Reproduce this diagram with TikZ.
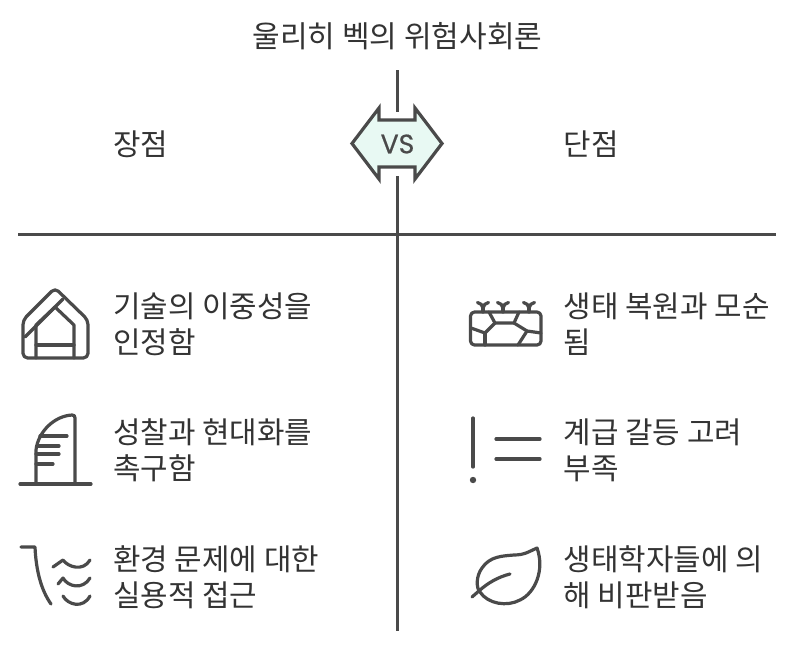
\documentclass[tikz,border=0pt]{standalone}
\usepackage{fontspec}
\setmainfont{Noto Sans CJK KR}
\newfontfamily\vsfont[FakeBold=0.6]{Poppins}
\definecolor{ink}{HTML}{4A4A4A}
\definecolor{txt}{HTML}{333333}
\definecolor{mint}{HTML}{E8F9F3}
\tikzset{
  px/.style={x=0.75pt,y=-0.75pt},
  rule/.style={draw=ink,line width=2.25pt},
  ico/.style={draw=ink,line width=2.4pt,line cap=round,line join=round},
  lbl/.style={anchor=base west,inner sep=0pt,text=txt,font=\fontsize{22.4}{22.4}\selectfont},
}
\begin{document}
\begin{tikzpicture}[px]
\useasboundingbox (0,0) rectangle (796,650);
\fill[white] (0,0) rectangle (796,650);
% frame lines
\coordinate (vtop) at (397,70);
\coordinate (vupper) at (397,112);
\coordinate (vlower) at (397,176);
\coordinate (vbot) at (397,631);
\coordinate (hl) at (18,234);
\coordinate (hr) at (776,234);
\draw[rule] (vtop) -- (vupper);
\draw[rule] (vlower) -- (vbot);
\draw[rule] (hl) -- (hr);
% VS badge
\draw[ico,fill=mint,line cap=butt,line join=miter] (352,143.5) -- (379,108) -- (379,120) -- (415,120) -- (415,108) -- (442,143.5) -- (415,179) -- (415,167) -- (379,167) -- (379,179) -- cycle;
\node[inner sep=0pt,text=ink,font=\vsfont\fontsize{20}{20}\selectfont] (vs) at (397.5,144) {VS};
% texts
\node[inner sep=0pt,text=txt,font=\fontsize{22.5}{22.5}\selectfont] (title) at (397.5,36) {울리히 벡의 위험사회론};
\node[lbl] (pro) at (113,155) {장점};
\node[lbl] (con) at (563.5,155) {단점};
\node[lbl] (a1) at (113,317) {기술의 이중성을};
\node[lbl] (a2) at (113,353) {인정함};
\node[lbl] (b1) at (113,443) {성찰과 현대화를};
\node[lbl] (b2) at (113,479) {촉구함};
\node[lbl] (c1) at (113,570) {환경 문제에 대한};
\node[lbl] (c2) at (113,606) {실용적 접근};
\node[lbl] (d1) at (563.5,317) {생태 복원과 모순};
\node[lbl] (d2) at (563.5,353) {됨};
\node[lbl] (e1) at (563.5,443) {계급 갈등 고려};
\node[lbl] (e2) at (563.5,479) {부족};
\node[lbl] (f1) at (563.5,570) {생태학자들에 의};
\node[lbl] (f2) at (563.5,606) {해 비판받음};
% icon: house
\draw[ico,rounded corners=3.5pt] (39,304) -- (55,288) -- (88,320) -- (88,358) -- (23,358) -- (23,320) -- cycle;
\draw[ico] (25,337) -- (63,299);
\draw[ico] (36,358) -- (36,325) -- (55,307) -- (74,325) -- (74,358);
\draw[ico] (36,345) -- (74,345);
% icon: building
\draw[ico] (20,484) -- (91,484);
\draw[ico] (36,484) -- (36,450) .. controls (38,432) and (54,416) .. (72,415) .. controls (74,415) and (75,416) .. (75,418) -- (75,484);
\draw[ico] (40,436) -- (67,436);
\draw[ico] (38,446) -- (59,446);
\draw[ico] (36,454) -- (59,454);
\draw[ico] (36,464) -- (53,464);
% icon: waves
\draw[ico] (21,547) -- (35,547) .. controls (36,570) and (41,590) .. (51,604);
\draw[ico] (53,567) -- (63,560) .. controls (68,567) and (83,572) .. (90,560);
\draw[ico] (58,584) -- (63,578) .. controls (68,587) and (83,590) .. (90,578);
\draw[ico] (63,596) .. controls (68,605) and (83,609) .. (90,596);
% icon: cracked soil
\draw[ico,rounded corners=3pt] (470.5,312) rectangle (541,345);
\foreach \sx in {483,503,529}{
  \draw[ico] (\sx,312) -- (\sx,308);
  \draw[ico] (\sx-5.5,302.5) .. controls (\sx-3,303) and (\sx,305) .. (\sx,308) .. controls (\sx,305) and (\sx+3,303) .. (\sx+5.5,302.5);
}
\draw[ico] (489,312) -- (495,323) -- (514,323) -- (519,312);
\draw[ico] (495,323) -- (485,333) -- (471,328);
\draw[ico] (485,333) -- (485,345);
\draw[ico] (514,323) -- (527,331) -- (541,333);
\draw[ico] (527,331) -- (518,345);
% icon: exclamation
\draw[ico] (473,418) -- (473,467);
\fill[ink] (473,480) circle[radius=3.2];
\draw[ico] (496,439) -- (540,439);
\draw[ico] (496,459) -- (540,459);
% icon: leaf
\draw[ico] (472,597) -- (480,590) .. controls (488,583) and (498,577) .. (510,574);
\draw[ico] (537,548) .. controls (530,551) and (525,555) .. (514,555) .. controls (503,556) and (490,556) .. (482,568) .. controls (476,576) and (476,588) .. (480,592) .. controls (488,604) and (507,607) .. (520,600) .. controls (535,593) and (545,570) .. (537,548) -- cycle;
\end{tikzpicture}
\end{document}
